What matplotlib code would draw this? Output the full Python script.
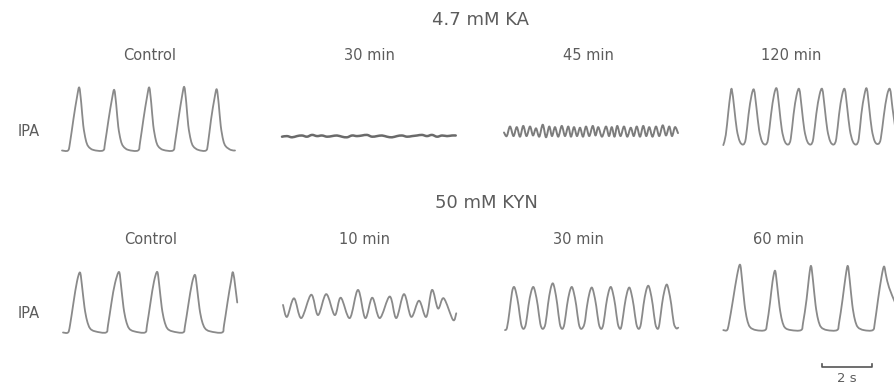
import matplotlib.pyplot as plt
from matplotlib.path import Path
from matplotlib.patches import PathPatch
import numpy as np

# IPA traces: time (s) from the start of each trace, amplitude (a.u.) above the row baseline

# ---- 4.7 mM KA ----
ka_control_t = [0.00, 0.24, 0.32, 0.46, 0.60, 0.69, 0.77, 0.85, 0.95, 1.05, 1.25,
                1.64, 1.72, 1.86, 2.00, 2.09, 2.17, 2.25, 2.35, 2.45, 2.65,
                3.04, 3.12, 3.26, 3.40, 3.49, 3.57, 3.65, 3.75, 3.85, 4.05,
                4.44, 4.52, 4.66, 4.80, 4.89, 4.97, 5.05, 5.15, 5.25, 5.45,
                5.76, 5.84, 5.96, 6.10, 6.19, 6.27, 6.35, 6.45, 6.55, 6.75, 6.92]
ka_control_a = [0.00, 0.00, 0.13, 0.53, 0.89, 1.05, 0.79, 0.42, 0.18, 0.07, 0.01,
                0.00, 0.12, 0.51, 0.86, 1.01, 0.76, 0.40, 0.17, 0.07, 0.01,
                0.00, 0.13, 0.53, 0.89, 1.05, 0.79, 0.42, 0.18, 0.07, 0.01,
                0.00, 0.13, 0.53, 0.90, 1.06, 0.80, 0.42, 0.18, 0.07, 0.01,
                0.00, 0.12, 0.51, 0.87, 1.02, 0.77, 0.41, 0.17, 0.07, 0.01, 0.00]

ka_30_t = [0.0, 0.2, 0.4, 0.6, 0.8, 1.0, 1.2, 1.4, 1.6, 1.8, 2.0, 2.2, 2.4, 2.6, 2.8, 3.0,
           3.2, 3.4, 3.6, 3.8, 4.0, 4.2, 4.4, 4.6, 4.8, 5.0, 5.2, 5.4, 5.6, 5.8, 6.0,
           6.2, 6.4, 6.6, 6.8, 6.95]
ka_30_a = [0.23, 0.24, 0.22, 0.24, 0.25, 0.23, 0.26, 0.24, 0.25, 0.23, 0.24, 0.25, 0.23, 0.22,
           0.25, 0.24, 0.25, 0.26, 0.23, 0.24, 0.25, 0.23, 0.22, 0.24, 0.25, 0.23, 0.24, 0.25,
           0.26, 0.24, 0.26, 0.23, 0.25, 0.24, 0.25, 0.25]

ka_45_t = [0.00, 0.11, 0.24, 0.38, 0.51, 0.64, 0.77, 0.90, 1.04, 1.16, 1.28, 1.41, 1.55, 1.68,
           1.81, 1.92, 2.04, 2.17, 2.31, 2.44, 2.57, 2.68, 2.80, 2.92, 3.04, 3.16, 3.28, 3.41,
           3.55, 3.66, 3.77, 3.92, 4.08, 4.20, 4.31, 4.42, 4.53, 4.66, 4.80, 4.93, 5.07, 5.19,
           5.31, 5.44, 5.57, 5.69, 5.81, 5.94, 6.08, 6.21, 6.35, 6.48, 6.61, 6.72, 6.84, 6.96]
ka_45_a = [0.30, 0.24, 0.40, 0.24, 0.39, 0.23, 0.41, 0.24, 0.40, 0.25, 0.37, 0.23, 0.43, 0.22,
           0.40, 0.24, 0.39, 0.23, 0.41, 0.24, 0.40, 0.23, 0.39, 0.24, 0.38, 0.23, 0.40, 0.24,
           0.41, 0.25, 0.39, 0.23, 0.40, 0.24, 0.39, 0.23, 0.41, 0.24, 0.40, 0.23, 0.38, 0.24,
           0.40, 0.23, 0.41, 0.24, 0.39, 0.23, 0.40, 0.24, 0.42, 0.25, 0.40, 0.24, 0.39, 0.29]

ka_120_t = [0.00, 0.10, 0.20, 0.28, 0.34,
            0.44, 0.54, 0.66, 0.80, 0.90, 1.01, 1.13, 1.23,
            1.33, 1.43, 1.55, 1.69, 1.79, 1.91, 2.03, 2.14,
            2.24, 2.34, 2.46, 2.60, 2.70, 2.81, 2.93, 3.04,
            3.14, 3.24, 3.36, 3.50, 3.60, 3.72, 3.85, 3.96,
            4.06, 4.16, 4.28, 4.42, 4.52, 4.63, 4.75, 4.86,
            4.96, 5.06, 5.18, 5.32, 5.42, 5.52, 5.64, 5.74,
            5.84, 5.94, 6.06, 6.20, 6.30, 6.42, 6.55, 6.67,
            6.77, 6.87]
ka_120_a = [0.09, 0.26, 0.64, 0.92, 1.02,
            0.70, 0.35, 0.15, 0.10, 0.20, 0.60, 0.92, 1.01,
            0.70, 0.35, 0.15, 0.10, 0.19, 0.60, 0.93, 1.03,
            0.71, 0.35, 0.15, 0.10, 0.20, 0.60, 0.92, 1.02,
            0.70, 0.35, 0.15, 0.10, 0.20, 0.61, 0.93, 1.02,
            0.70, 0.35, 0.15, 0.10, 0.20, 0.60, 0.92, 1.02,
            0.70, 0.35, 0.15, 0.10, 0.20, 0.60, 0.92, 1.03,
            0.70, 0.35, 0.15, 0.11, 0.20, 0.58, 0.92, 1.02,
            0.70, 0.40]

# ---- 50 mM KYN ----
kyn_control_t = [0.00, 0.20, 0.28, 0.42, 0.56, 0.68, 0.76, 0.86, 0.96, 1.08, 1.28,
                 1.72, 1.80, 1.94, 2.08, 2.24, 2.32, 2.42, 2.52, 2.64, 2.84,
                 3.28, 3.36, 3.50, 3.64, 3.77, 3.85, 3.95, 4.05, 4.17, 4.37,
                 4.80, 4.88, 5.02, 5.16, 5.28, 5.36, 5.46, 5.56, 5.68, 5.88,
                 6.36, 6.44, 6.58, 6.72, 6.81, 6.97]
kyn_control_a = [0.00, 0.00, 0.12, 0.50, 0.85, 1.00, 0.78, 0.42, 0.20, 0.07, 0.02,
                 0.00, 0.12, 0.50, 0.82, 1.01, 0.79, 0.42, 0.20, 0.07, 0.02,
                 0.00, 0.12, 0.50, 0.85, 1.01, 0.79, 0.42, 0.20, 0.07, 0.02,
                 0.00, 0.11, 0.48, 0.82, 0.96, 0.75, 0.40, 0.19, 0.07, 0.02,
                 0.00, 0.12, 0.50, 0.85, 0.99, 0.50]

kyn_10_t = [0.00, 0.16, 0.44, 0.73, 1.13, 1.40, 1.73, 2.07, 2.31, 2.67, 3.00, 3.29, 3.57,
            3.87, 4.27, 4.53, 4.84, 5.13, 5.44, 5.73, 5.96, 6.20, 6.43, 6.80, 6.93]
kyn_10_a = [0.46, 0.26, 0.57, 0.24, 0.63, 0.29, 0.64, 0.29, 0.58, 0.24, 0.71, 0.24, 0.58,
            0.24, 0.60, 0.24, 0.64, 0.26, 0.53, 0.26, 0.71, 0.40, 0.57, 0.21, 0.32]

kyn_30_t = [0.00, 0.08, 0.18, 0.28, 0.36,
            0.44, 0.54, 0.64, 0.74, 0.84, 0.94, 1.04, 1.13,
            1.21, 1.31, 1.41, 1.51, 1.62, 1.72, 1.82, 1.91,
            1.99, 2.09, 2.19, 2.29, 2.38, 2.48, 2.58, 2.67,
            2.75, 2.85, 2.95, 3.05, 3.18, 3.28, 3.38, 3.47,
            3.55, 3.65, 3.75, 3.85, 3.94, 4.04, 4.14, 4.23,
            4.31, 4.41, 4.51, 4.61, 4.68, 4.78, 4.88, 4.97,
            5.05, 5.15, 5.25, 5.35, 5.44, 5.54, 5.64, 5.73,
            5.81, 5.91, 6.01, 6.11, 6.18, 6.28, 6.38, 6.47,
            6.55, 6.65, 6.75, 6.85, 6.93]
kyn_30_a = [0.04, 0.08, 0.35, 0.67, 0.76,
            0.67, 0.45, 0.15, 0.06, 0.15, 0.45, 0.67, 0.76,
            0.67, 0.45, 0.15, 0.06, 0.15, 0.47, 0.72, 0.82,
            0.72, 0.47, 0.15, 0.06, 0.15, 0.45, 0.67, 0.76,
            0.67, 0.45, 0.15, 0.06, 0.15, 0.44, 0.66, 0.75,
            0.66, 0.44, 0.15, 0.06, 0.15, 0.45, 0.67, 0.76,
            0.67, 0.45, 0.15, 0.06, 0.15, 0.44, 0.66, 0.75,
            0.66, 0.44, 0.15, 0.06, 0.15, 0.46, 0.69, 0.78,
            0.69, 0.46, 0.15, 0.06, 0.15, 0.47, 0.70, 0.80,
            0.70, 0.47, 0.16, 0.07, 0.08]

kyn_60_t = [0.00, 0.15, 0.23, 0.39, 0.55, 0.67, 0.75, 0.85, 0.95, 1.07, 1.31,
            1.67, 1.75, 1.87, 1.97, 2.07, 2.15, 2.25, 2.35, 2.47, 2.71,
            3.11, 3.19, 3.33, 3.43, 3.51, 3.59, 3.69, 3.79, 3.91, 4.15,
            4.55, 4.63, 4.77, 4.89, 4.98, 5.06, 5.16, 5.26, 5.38, 5.62,
            5.98, 6.06, 6.19, 6.33, 6.43, 6.51, 6.63, 6.87]
kyn_60_a = [0.04, 0.04, 0.16, 0.55, 0.95, 1.13, 0.88, 0.47, 0.22, 0.09, 0.04,
            0.04, 0.15, 0.50, 0.85, 1.03, 0.80, 0.43, 0.20, 0.08, 0.04,
            0.04, 0.16, 0.55, 0.93, 1.11, 0.86, 0.46, 0.22, 0.09, 0.04,
            0.04, 0.16, 0.55, 0.93, 1.11, 0.86, 0.46, 0.22, 0.09, 0.04,
            0.04, 0.16, 0.55, 0.93, 1.10, 0.95, 0.75, 0.50]

row_titles = ['4.7 mM KA', '50 mM KYN']
ka_labels = ['Control', '30 min', '45 min', '120 min']
kyn_labels = ['Control', '10 min', '30 min', '60 min']
scale_len = 2  # s

# ---- layout (pixels of the 895x387 figure) ----
W, H = 895, 387
PX_S = 25.0     # px per second
PX_A = 60.0     # px per amplitude unit

fig = plt.figure(figsize=(W / 100, H / 100), dpi=100)
ax = fig.add_axes([0, 0, 1, 1])
ax.set_xlim(0, W / PX_S)
ax.set_ylim(0, H / PX_A)
ax.axis('off')


def xs(px):
    return px / PX_S


def ys(py):
    return (H - py) / PX_A


def smooth_path(x, y, k=1 / 6.0):
    # catmull-rom style bezier through the read vertices (just rounds the pen corners)
    p = np.column_stack([x, y])
    n = len(p)
    verts = [p[0]]
    codes = [Path.MOVETO]
    for i in range(n - 1):
        p0 = p[max(i - 1, 0)]
        p1 = p[i]
        p2 = p[i + 1]
        p3 = p[min(i + 2, n - 1)]
        verts += [p1 + (p2 - p0) * k, p2 - (p3 - p1) * k, p2]
        codes += [Path.CURVE4] * 3
    return Path(verts, codes)


trace_col = '#8a8a8a'
text_col = '#5c5c5c'

rows = [
    (150.5, [(62, ka_control_t, ka_control_a, 1.3, trace_col),
             (282, ka_30_t, ka_30_a, 1.8, '#6a6a6a'),
             (504, ka_45_t, ka_45_a, 1.4, '#7c7c7c'),
             (723.3, ka_120_t, ka_120_a, 1.3, trace_col)]),
    (332.5, [(63, kyn_control_t, kyn_control_a, 1.3, trace_col),
             (283, kyn_10_t, kyn_10_a, 1.3, trace_col),
             (505, kyn_30_t, kyn_30_a, 1.3, trace_col),
             (723.3, kyn_60_t, kyn_60_a, 1.3, trace_col)]),
]

for base, traces in rows:
    for x0, t, a, lw, c in traces:
        path = smooth_path(np.array(t) + xs(x0), np.array(a) + ys(base))
        ax.add_patch(PathPatch(path, fill=False, edgecolor=c, lw=lw,
                               joinstyle='round', capstyle='round', clip_on=False))


# texts
def label(x, y, s, size, **kw):
    fig.text(x / W, 1 - y / H, s, fontsize=size, color=text_col,
             ha='center', va='center', **kw)


label(481, 20, row_titles[0], 13)
label(486, 203, row_titles[1], 13)
for s, x in zip(ka_labels, [150, 369, 588, 791]):
    label(x, 55, s, 10.5)
for s, x in zip(kyn_labels, [151, 365, 578, 779]):
    label(x, 239, s, 10.5)
label(29, 131, 'IPA', 10.5)
label(29, 313, 'IPA', 10.5)

# scale bar
sb_x, sb_y = xs(821.7), ys(366.7)
tick = 3 / PX_A
ax.plot([sb_x, sb_x, sb_x + scale_len, sb_x + scale_len],
        [sb_y + tick, sb_y, sb_y, sb_y + tick], color='#555555', lw=1.2)
label(847, 379, '%d s' % scale_len, 9.5)

fig.savefig('out.png', dpi=100)
